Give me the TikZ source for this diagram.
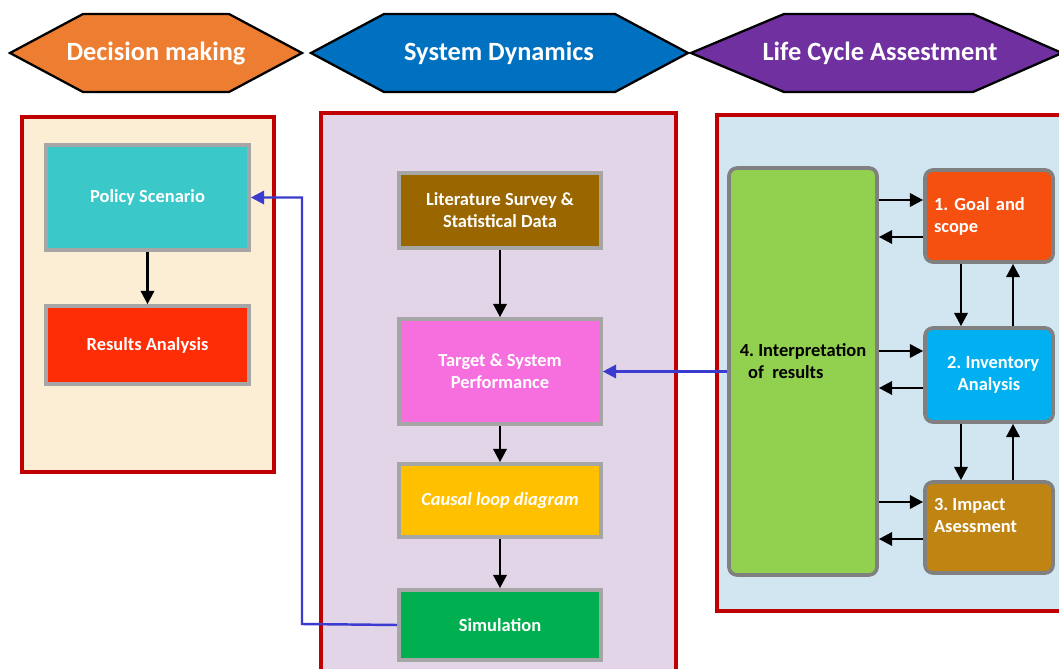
\documentclass[tikz,border=0pt]{standalone}
\usepackage{fontspec}
\setmainfont{Carlito}
\usetikzlibrary{arrows.meta}

\definecolor{hexorange}{HTML}{ED7D31}
\definecolor{hexblue}{HTML}{0070C0}
\definecolor{hexpurple}{HTML}{7030A0}
\definecolor{panelred}{HTML}{C00000}
\definecolor{paneltan}{HTML}{FCEDD5}
\definecolor{panellilac}{HTML}{E1D5E7}
\definecolor{panelsky}{HTML}{D2E6F2}
\definecolor{policyteal}{HTML}{3BC8C9}
\definecolor{resultsred}{HTML}{FF2D06}
\definecolor{litbrown}{HTML}{996600}
\definecolor{targetpink}{HTML}{F76FDF}
\definecolor{causalyellow}{HTML}{FFC000}
\definecolor{simgreen}{HTML}{00B050}
\definecolor{interpgreen}{HTML}{92D050}
\definecolor{goalorange}{HTML}{F55010}
\definecolor{invblue}{HTML}{00B0F0}
\definecolor{impactgold}{HTML}{BF8412}
\definecolor{linkblue}{HTML}{3B3BD0}

\tikzset{
  header/.style={draw=black, line width=1.3pt, line join=miter},
  headtext/.style={text=white, font=\bfseries\fontsize{15}{17}\selectfont},
  panel/.style={draw=panelred, line width=2pt},
  block/.style={draw=black!35, line width=2.1pt, text=white, align=center,
    font=\bfseries\fontsize{10.5}{12.5}\selectfont},
  lcabox/.style={draw=black!50, line width=2.1pt, rounded corners=0.16cm,
    text=white, font=\bfseries\fontsize{10.5}{12.5}\selectfont},
  arr/.style={line width=1.5pt, -{Triangle[length=7.5pt,width=7.5pt]}},
  link/.style={draw=linkblue, line width=1.4pt, -{Triangle[length=7.5pt,width=7.5pt]}}
}

\begin{document}
\frenchspacing
\begin{tikzpicture}[x=0.02cm, y=-0.02cm]
\useasboundingbox (0,0) rectangle (1059,669);

% headers
\draw[header, fill=hexorange] (10,53) -- (83,14) -- (229,14) -- (302,53) -- (229,92) -- (83,92) -- cycle;
\draw[header, fill=hexblue] (311,53) -- (384,14) -- (615,14) -- (688,53) -- (615,92) -- (384,92) -- cycle;
\draw[header, fill=hexpurple] (691,53) -- (784,14) -- (973,14) -- (1062,53) -- (973,92) -- (784,92) -- cycle;
\node[headtext] (hdm) at (156,53) {Decision making};
\node[headtext] (hsd) at (499,53) {System Dynamics};
\node[headtext] (hlca) at (880,53) {Life Cycle Assestment};

% panels
\draw[panel, fill=paneltan] (22,117) rectangle (274,472);
\draw[panel, fill=panellilac] (321,113) rectangle (676,690);
\draw[panel, fill=panelsky] (717,115) rectangle (1080,611);

% decision making
\node[block, fill=policyteal, minimum width=4.06cm, minimum height=2.1cm] (policy) at (147.5,197.5) {Policy Scenario};
\node[block, fill=resultsred, minimum width=4.06cm, minimum height=1.56cm] (results) at (147.5,345) {Results Analysis};
\draw[arr] (policy) -- (results);

% system dynamics
\node[block, fill=litbrown, minimum width=4.04cm, minimum height=1.5cm] (lit) at (500,210.5) {Literature Survey \&\\Statistical Data};
\node[block, fill=targetpink, minimum width=4.04cm, minimum height=2.1cm] (target) at (500,371.5) {Target \& System\\Performance};
\node[block, fill=causalyellow, minimum width=4.04cm, minimum height=1.46cm, font=\bfseries\itshape\fontsize{10.5}{12.5}\selectfont] (causal) at (500,500.5) {Causal loop diagram};
\node[block, fill=simgreen, minimum width=4.04cm, minimum height=1.4cm] (sim) at (500,625) {Simulation};
\draw[arr] (lit) -- (target);
\draw[arr] (target) -- (causal);
\draw[arr] (causal) -- (sim);

% life cycle assessment
\node[lcabox, fill=interpgreen, minimum width=2.96cm, minimum height=8.14cm] (interp) at (803,371.5) {};
\node[text=black, align=left, font=\bfseries\fontsize{10.5}{12.5}\selectfont] (interptext) at (803,361) {4. Interpretation\\\ \ of\ \ results};
\node[lcabox, fill=goalorange, minimum width=2.56cm, minimum height=1.84cm, text width=2.2cm, align=left] (goal) at (989,216) {1. Goal and\\scope};
\node[lcabox, fill=invblue, minimum width=2.56cm, minimum height=1.88cm, align=center] (inv) at (989,375) {\ \ 2. Inventory\\Analysis};
\node[lcabox, fill=impactgold, minimum width=2.56cm, minimum height=1.82cm] (impact) at (989,527.5) {\raisebox{0.14cm}[0pt][0pt]{\parbox{2.2cm}{\raggedright 3. Impact\\Asessment}}};

\draw[arr] (interp.east |- 0,200) -- (goal.west |- 0,200);
\draw[arr] (goal.west |- 0,237) -- (interp.east |- 0,237);
\draw[arr] (interp.east |- 0,351) -- (inv.west |- 0,351);
\draw[arr] (inv.west |- 0,388) -- (interp.east |- 0,388);
\draw[arr] (interp.east |- 0,502) -- (impact.west |- 0,502);
\draw[arr] (impact.west |- 0,539) -- (interp.east |- 0,539);
\draw[arr] (goal.south -| 961,0) -- (inv.north -| 961,0);
\draw[arr] (inv.north -| 1013,0) -- (goal.south -| 1013,0);
\draw[arr] (inv.south -| 961,0) -- (impact.north -| 961,0);
\draw[arr] (impact.north -| 1013,0) -- (inv.south -| 1013,0);

% feedback links
\coordinate (turn) at (302,624);
\draw[link] (interp.west) -- (target.east);
\draw[link] (sim.west) -- (turn) |- (policy.east);
\end{tikzpicture}
\end{document}
